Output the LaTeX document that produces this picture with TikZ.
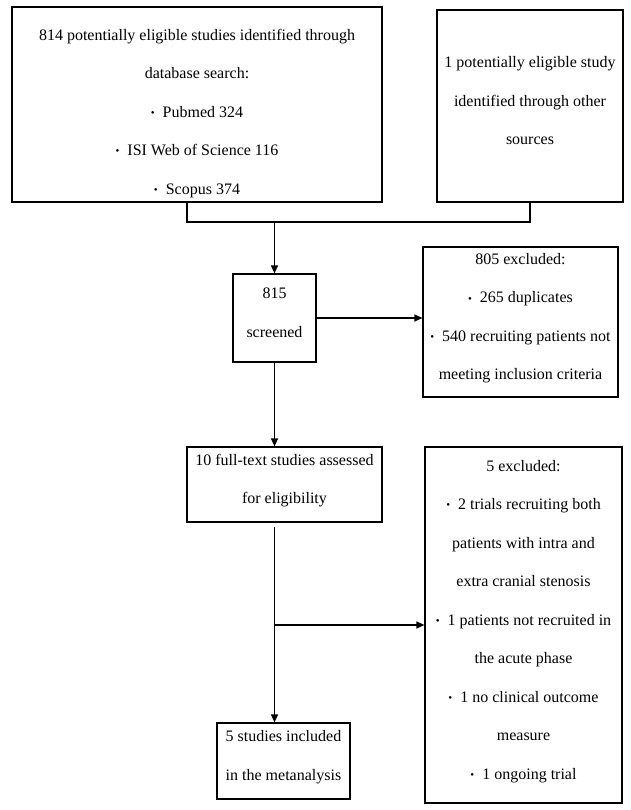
\documentclass[tikz,border=0pt]{standalone}
\usepackage{fontspec}
\setmainfont{Liberation Serif}
\usetikzlibrary{arrows.meta}

\newcommand{\itemdot}{{\fontsize{11}{11}\selectfont\raisebox{0.8pt}{\textbullet}}\ \ }

\begin{document}
\begin{tikzpicture}[%
      x=1pt, y=-1pt,
      flowbox/.style={draw, line width=1.2pt, align=center, inner sep=0pt,
        font=\fontsize{16}{38.5}\selectfont},
      liftedbox/.style={flowbox, execute at end node={\rule[-11pt]{0pt}{1pt}}},
      flowline/.style={line width=1.2pt},
      flowarrow/.style={flowline, -{Triangle[length=8pt,width=7pt]}}]

      \useasboundingbox (0,0) rectangle (630,810);

      % identification
      \node[flowbox, minimum width=370pt, minimum height=195pt] (search) at (197,104.5)
          {\rule{0pt}{29pt}814 potentially eligible studies identified through\\
           database search:\\
           \itemdot Pubmed 324\\
           \itemdot ISI Web of Science 116\\
           \itemdot Scopus 374};
      \node[liftedbox, minimum width=186pt, minimum height=192pt] (other) at (530,106)
          {1 potentially eligible study\\
           identified through other\\
           sources};

      % screening
      \node[liftedbox, minimum width=83pt, minimum height=88pt] (screen) at (274.5,318)
          {815\\ screened};
      \node[liftedbox, minimum width=195pt, minimum height=150pt] (excl1) at (520.5,322)
          {805 excluded:\\
           \itemdot 265 duplicates\\
           \itemdot 540 recruiting patients not\\
           meeting inclusion criteria};

      % eligibility and inclusion
      \node[liftedbox, minimum width=195pt, minimum height=75pt] (full) at (284.5,484.5)
          {10 full-text studies assessed\\ for eligibility};
      \node[liftedbox, minimum width=197pt, minimum height=356pt] (excl2) at (523.5,625)
          {5 excluded:\\
           \itemdot 2 trials recruiting both\\
           patients with intra and\\
           extra cranial stenosis\\
           \itemdot 1 patients not recruited in\\
           the acute phase\\
           \itemdot 1 no clinical outcome\\
           measure\\
           \itemdot 1 ongoing trial};
      \node[liftedbox, minimum width=133pt, minimum height=76pt] (incl) at (283.5,761)
          {5 studies included\\ in the metanalysis};

      % connectors
      \coordinate (join) at (274.5,222);
      \coordinate (fullout) at ([yshift=-4pt]full.south);
      \coordinate (split) at (screen.south |- excl2.west);
      \draw[flowline] ([xshift=-10pt]search.south) |- (join) -| (other.south);
      \draw[flowarrow] (join) -- (join |- screen.north);
      \draw[flowarrow] (screen.east) -- (screen.east -| excl1.west);
      \draw[flowarrow] (screen.south) -- (screen.south |- full.north);
      \draw[flowarrow] (screen.south |- fullout) -- (screen.south |- incl.north);
      \draw[flowarrow] (split) -- (excl2.west);

    \end{tikzpicture}
\end{document}
